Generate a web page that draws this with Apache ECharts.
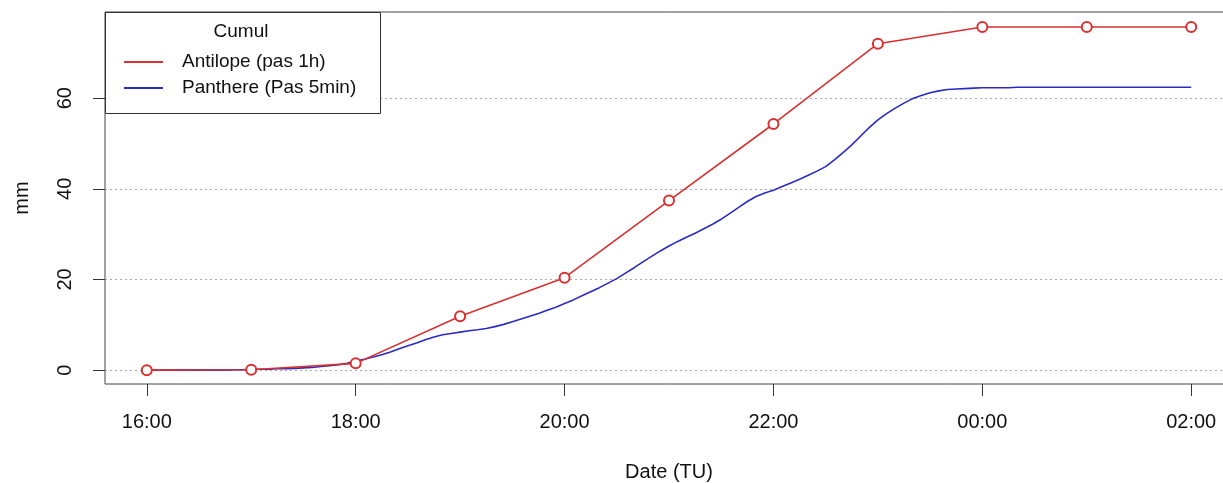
<!DOCTYPE html>
<html>
<head>
<meta charset="utf-8">
<script src="https://cdn.jsdelivr.net/npm/echarts@6/dist/echarts.min.js"></script>
<style>
html,body{margin:0;padding:0;background:#fff;}
#chart{width:1223px;height:483px;}
</style>
</head>
<body>
<div id="chart"></div>
<script>
// ---- data ----
const xTickLabels = ['16:00','18:00','20:00','22:00','00:00','02:00'];
const yTickValues = [0, 20, 40, 60];
const antilopeTimes = ['16:00','17:00','18:00','19:00','20:00','21:00','22:00','23:00','00:00','01:00','02:00'];
const antilopeValues = [0, 0.1, 1.5, 11.9, 20.4, 37.4, 54.3, 72.0, 75.7, 75.7, 75.7];
const pantheraStart = '16:00';
const pantheraStepMin = 5;
const pantheraValues = [
  0,0,0,0,0,0,0,0,0,0,0.1,0.1,
  0.2,0.2,0.2,0.3,0.3,0.4,0.5,0.6,0.8,1.0,1.2,1.5,
  2.0,2.4,2.9,3.4,4.0,4.7,5.4,6.0,6.7,7.3,7.8,8.1,
  8.4,8.7,8.9,9.2,9.6,10.1,10.7,11.3,11.9,12.5,13.2,13.9,
  14.7,15.5,16.4,17.3,18.2,19.2,20.2,21.4,22.6,23.9,25.1,26.3,
  27.4,28.4,29.3,30.2,31.2,32.2,33.3,34.6,35.9,37.2,38.3,39.1,
  39.7,40.5,41.3,42.1,43.0,43.9,44.9,46.4,48.0,49.7,51.6,53.5,
  55.2,56.6,57.8,58.9,59.9,60.6,61.2,61.6,61.9,62.0,62.1,62.2,
  62.3,62.3,62.3,62.3,62.4,62.4,62.4,62.4,62.4,62.4,62.4,62.4,
  62.4,62.4,62.4,62.4,62.4,62.4,62.4,62.4,62.4,62.4,62.4,62.4,
  62.4
];
const seriesNames = ['Antilope (pas 1h)', 'Panthere (Pas 5min)'];
const legendTitle = 'Cumul';

// ---- helpers ----
function toMin(t){ // minutes since 16:00
  const [h,m] = t.split(':').map(Number);
  return ((h - 16 + 24) % 24) * 60 + m;
}
function fromMin(v){
  const tot = (Math.round(v) + 16*60) % (24*60);
  const h = Math.floor(tot/60), m = tot%60;
  return String(h).padStart(2,'0') + ':' + String(m).padStart(2,'0');
}
const antilopeData = antilopeTimes.map((t,i)=>[toMin(t), antilopeValues[i]]);
const p0 = toMin(pantheraStart);
const pantheraData = pantheraValues.map((v,i)=>[p0 + i*pantheraStepMin, v]);
const xTickValues = xTickLabels.map(toMin);

const FONT = '"Liberation Sans", Arial, sans-serif';
const chart = echarts.init(document.getElementById('chart'));
chart.setOption({
  animation: false,
  backgroundColor: '#fff',
  textStyle: {fontFamily: FONT},
  grid: {left: 105, top: 12, width: 1128, height: 372, show: true, borderColor: '#444', borderWidth: 1, backgroundColor: 'transparent', containLabel: false, outerBoundsMode: 'none'},
  xAxis: {
    type: 'value', min: -24, max: 624,
    name: 'Date (TU)', nameLocation: 'middle', nameGap: 78,
    nameTextStyle: {fontSize: 20, color: '#111', fontFamily: FONT},
    axisLine: {show: false, onZero: false},
    axisTick: {show: true, length: 12, customValues: xTickValues, lineStyle: {color: '#333', width: 1}},
    axisLabel: {customValues: xTickValues, formatter: v => fromMin(v), fontSize: 20, color: '#111', margin: 28, fontFamily: FONT},
    splitLine: {show: false}
  },
  yAxis: {
    type: 'value', min: -3.05, max: 79,
    name: 'mm', nameLocation: 'middle', nameGap: 73, nameRotate: 90,
    nameTextStyle: {fontSize: 20, color: '#111', fontFamily: FONT},
    axisLine: {show: false, onZero: false},
    axisTick: {show: true, length: 12, customValues: yTickValues, lineStyle: {color: '#333', width: 1}},
    axisLabel: {customValues: yTickValues, rotate: 90, fontSize: 20, color: '#111', margin: 30, fontFamily: FONT},
    splitLine: {show: true, lineStyle: {color: '#a8a8a8', type: [2, 3], width: 1.2}}
  },
  legend: {
    left: 124, top: 52, orient: 'vertical', padding: 0,
    itemWidth: 39, itemHeight: 2, itemGap: 6,
    data: [{name: seriesNames[0], icon: 'rect'}, {name: seriesNames[1], icon: 'rect'}],
    textStyle: {fontSize: 19, color: '#111', lineHeight: 20, padding: [0,0,0,14], fontFamily: FONT},
    z: 10
  },
  graphic: [
    {type: 'rect', z: 5, shape: {x: 105.5, y: 12.5, width: 275, height: 101}, style: {fill: '#fff', stroke: '#333', lineWidth: 1}},
    {type: 'text', z: 10, style: {text: legendTitle, x: 241, y: 32, textAlign: 'center', textVerticalAlign: 'middle', fontSize: 19, fill: '#111', fontFamily: FONT}}
  ],
  series: [
    {
      name: seriesNames[0], type: 'line', data: antilopeData,
      color: '#d93030',
      lineStyle: {width: 1.6, color: '#d93030'},
      symbol: 'emptyCircle', symbolSize: 10,
      itemStyle: {color: '#d93030', borderWidth: 1.3},
      z: 3
    },
    {
      name: seriesNames[1], type: 'line', data: pantheraData,
      color: '#2b2bc4',
      lineStyle: {width: 1.6, color: '#2b2bc4'},
      showSymbol: false, symbol: 'none',
      z: 2
    }
  ]
});
</script>
</body>
</html>
